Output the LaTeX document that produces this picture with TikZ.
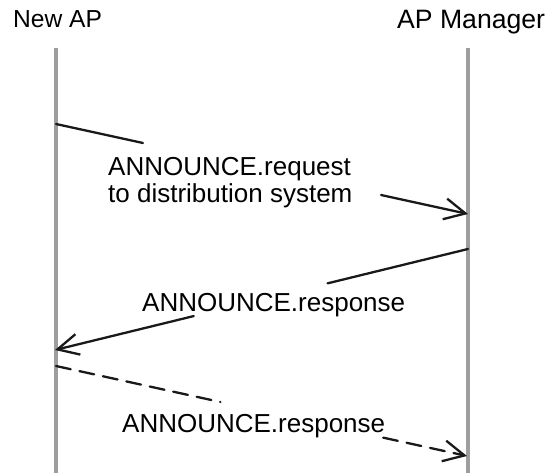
\documentclass[tikz,border=0pt]{standalone}
\usepackage{fontspec}
\setmainfont{Liberation Sans}
\usetikzlibrary{arrows.meta,calc}
\begin{document}
\begin{tikzpicture}[x=1pt,y=-1pt,
  lifeline/.style={draw=black!38, line width=3.5pt},
  msg/.style={draw=black!90, line width=2.3pt, line cap=round},
  msgtip/.style={-{Straight Barb[length=21pt,width=21pt,line width=2.3pt]}},
  dashmsg/.style={msg, dash pattern=on 15pt off 9pt},
  lbl/.style={inner sep=0pt, font=\fontsize{26}{27}\selectfont, align=left},
  head/.style={anchor=base west, inner sep=0pt}]
\useasboundingbox (0,0) rectangle (547,473);

% participants
\node[head, font=\fontsize{24.6}{26}\selectfont] (newap) at (13,28) {New AP};
\node[head, font=\fontsize{26.6}{28}\selectfont] (mgr) at (397,29) {AP Manager};

% lifelines
\coordinate (apTop) at (56,48);
\coordinate (apBot) at (56,473);
\coordinate (mgrTop) at (468,48);
\coordinate (mgrBot) at (468,473);
\draw[lifeline] (apTop) -- (apBot);
\draw[lifeline] (mgrTop) -- (mgrBot);

% message end points on the lifelines
\coordinate (req0) at (56,124);
\coordinate (req1) at (468,214);
\coordinate (resA0) at (468,249);
\coordinate (resA1) at (55,350);
\coordinate (resB0) at (56,366);
\coordinate (resB1) at (467,456);

% ANNOUNCE.request
\draw[msg] (req0) -- ($(req0)!0.211!(req1)$);
\draw[msg, msgtip] ($(req0)!0.789!(req1)$) -- (req1);
\node[lbl, anchor=north west] (reqText) at (108,157.4)
  {ANNOUNCE.request\\to distribution system};

% ANNOUNCE.response back to the new AP
\draw[msg] (resA0) -- ($(resA0)!0.34!(resA1)$);
\draw[msg, msgtip] ($(resA0)!0.664!(resA1)$) -- (resA1);
\node[lbl, anchor=base west] (resAText) at (142,312) {ANNOUNCE.response};

% forwarded ANNOUNCE.response (dashed)
\draw[dashmsg] (resB0) -- ($(resB0)!0.40!(resB1)$);
\draw[dashmsg, msgtip] ($(resB0)!0.796!(resB1)$) -- (resB1);
\node[lbl, anchor=base west] (resBText) at (122,433) {ANNOUNCE.response};
\end{tikzpicture}
\end{document}
